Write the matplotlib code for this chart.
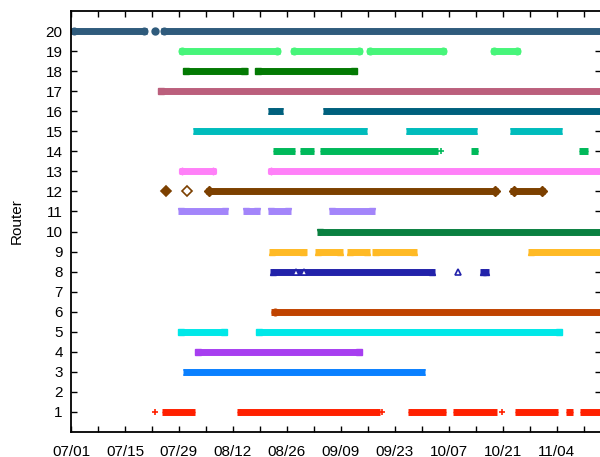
import matplotlib
matplotlib.use("Agg")
import matplotlib.pyplot as plt
from datetime import datetime, timedelta

plt.rcParams['font.family'] = ['Liberation Sans', 'DejaVu Sans']

# dias contados desde el 07/01
inicio = datetime(2013, 7, 1)
fin = 137.5

routers = [20, 19, 18, 17, 16, 15, 14, 13, 12, 11, 10, 9, 8, 6, 5, 4, 3, 1]

colores = {
    20: "#2f5b7c", 19: "#47f57a", 18: "#037a03", 17: "#bb5f7c", 16: "#00607d",
    15: "#00bcbc", 14: "#00b95a", 13: "#ff80f8", 12: "#7c4000", 11: "#a385fa",
    10: "#0a8040", 9: "#ffba25", 8: "#2222aa", 6: "#c04300", 5: "#00e8e8",
    4: "#a73ef0", 3: "#0a80ff", 1: "#ff2000",
}

marcadores = {
    20: "o", 19: "o", 18: "s", 17: "s", 16: "x", 15: "x", 14: "+", 13: "h",
    12: "D", 11: "v", 10: "v", 9: "^", 8: "^", 6: "o", 5: "s", 4: "s", 3: "x", 1: "+",
}

tramos = {
    20: [(0, 19.7), (23.3, fin)],
    19: [(28.1, 54.2), (57.0, 75.5), (76.7, 97.4), (109.0, 116.4)],
    18: [(29.0, 45.8), (47.7, 74.1)],
    17: [(22.6, fin)],
    16: [(51.0, 54.9), (65.3, fin)],
    15: [(31.7, 76.7), (86.9, 105.4), (113.8, 127.5)],
    14: [(52.3, 58.1), (59.4, 63.0), (64.6, 95.2), (103.9, 105.5), (131.9, 134.1)],
    13: [(28.1, 37.6), (51.2, fin)],
    12: [(34.9, 110.8), (114.0, 123.1)],
    11: [(27.8, 40.8), (44.7, 49.0), (51.0, 57.2), (67.0, 78.8)],
    10: [(63.7, fin)],
    9: [(51.4, 61.1), (63.3, 70.6), (71.5, 77.7), (78.2, 89.8), (118.6, fin)],
    8: [(51.6, 94.5), (106.0, 108.5)],
    6: [(52.0, fin)],
    5: [(27.8, 40.4), (48.1, 127.5)],
    4: [(32.1, 75.4)],
    3: [(29.1, 91.8)],
    1: [(23.5, 32.1), (43.0, 80.1), (87.5, 97.2), (99.1, 110.4), (115.1, 126.3),
        (128.5, 130.2), (132.0, fin)],
}

# puntos sueltos (dia, relleno)
puntos = {
    20: [(21.8, True)],
    14: [(96.0, True)],
    12: [(24.6, True), (30.2, False)],
    8: [(58.5, False), (60.5, False), (100.4, False)],
    1: [(21.8, True), (80.8, True), (111.7, True)],
}

fig = plt.figure(figsize=(6.0, 4.57), dpi=100)
ax = fig.add_axes([71 / 600, 25 / 457, 530 / 600, 421 / 457])

for r in routers:
    c = colores[r]
    m = marcadores[r]
    for a, b in tramos[r]:
        ax.plot([a, b], [r, r], color=c, lw=5.0, solid_capstyle="butt")
        ends = [a + 0.8] + ([b - 0.8] if b < fin else [])
        ax.plot(ends, [r] * len(ends), ls="none", marker=m, ms=4.8,
                color=c, mec=c, mew=1.0)
    for d, lleno in puntos.get(r, []):
        ax.plot([d], [r], ls="none", marker=m, ms=4.8, color=c, mec=c, mew=1.2,
                mfc=c if lleno else "white")

xt = list(range(0, 140, 14))
ax.set_xticks(xt)
ax.set_xticklabels([(inicio + timedelta(days=t)).strftime("%m/%d") for t in xt])
ax.set_xticks(list(range(7, 140, 14)), minor=True)
ax.set_yticks(range(1, 21))
ax.set_xlim(0, fin)
ax.set_ylim(0, 21)

ax.tick_params(which="both", direction="in", top=True, right=True, length=4,
               width=1, labelsize=11, colors="black")
ax.tick_params(axis="x", pad=9)
ax.tick_params(axis="y", pad=6)
for s in ax.spines.values():
    s.set_linewidth(1.3)

ax.set_ylabel("Router", fontsize=11, labelpad=16)

fig.savefig("out.png", dpi=100)
